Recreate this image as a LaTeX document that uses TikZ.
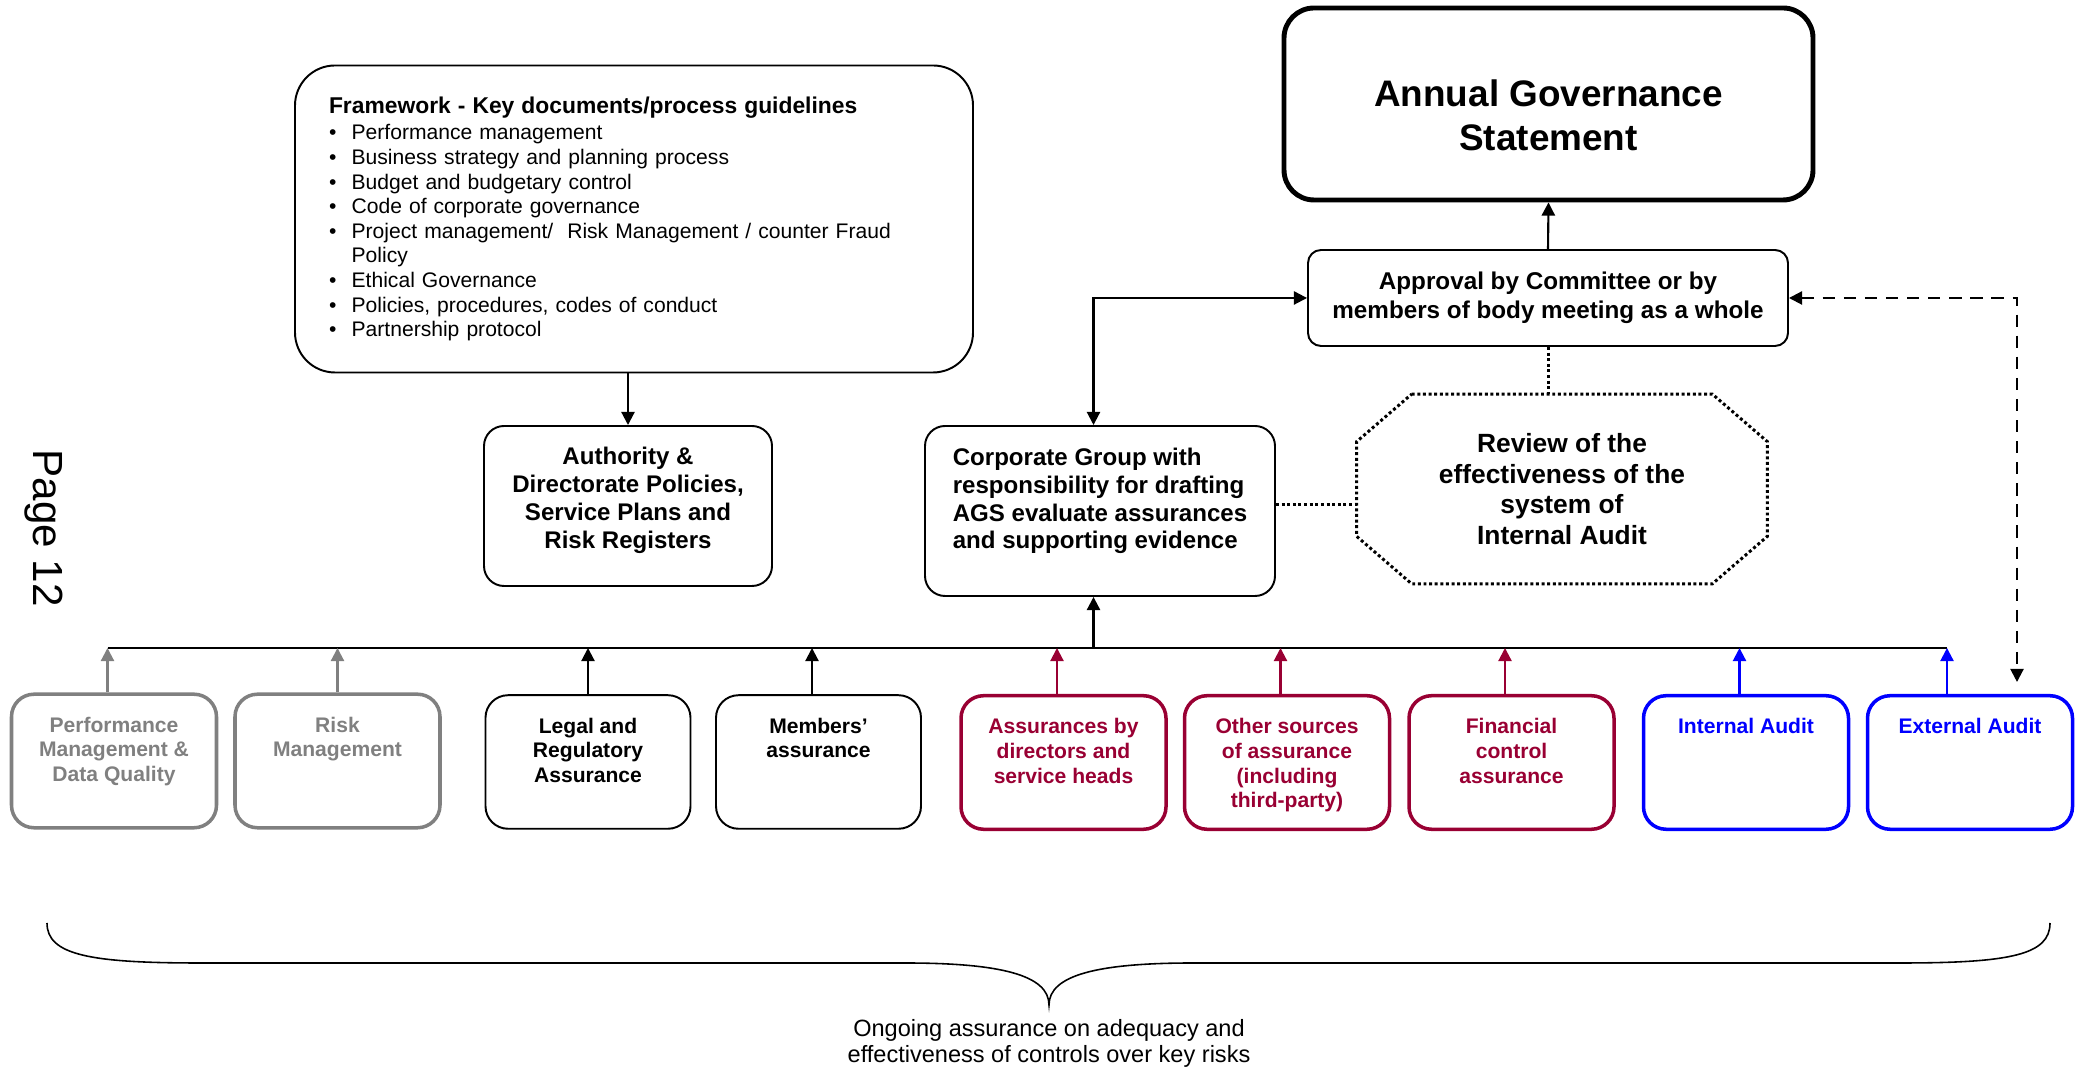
\documentclass[tikz,border=0pt]{standalone}
\usepackage{fontspec}
\setmainfont{Liberation Sans}
\usetikzlibrary{arrows.meta}

\definecolor{midgray}{RGB}{128,128,128}
\definecolor{wine}{RGB}{153,0,51}
\definecolor{audblue}{RGB}{0,0,255}

% lines of a box, shifted up or down without changing the box
\newcommand{\liftlines}[3]{\raisebox{#1}[\height][\depth]{\begin{tabular}{@{}#2@{}}#3\end{tabular}}}

\begin{document}
\begin{tikzpicture}[
    >={Triangle[length=7.5pt,width=7.5pt]},
    bigbold/.style={font=\fontsize{13.7}{15.9}\selectfont\bfseries},
    roundbox/.style={draw, line width=1.1pt, rounded corners=0.4cm, bigbold},
    topheld/.style={inner xsep=0.15cm, inner ysep=13pt,
        execute at begin node={\begin{minipage}[c][50pt][t]{3.8cm}\centering},
        execute at end node={\end{minipage}}},
    source/.style={draw, rounded corners=0.45cm, line width=2pt, topheld,
        font=\fontsize{12}{14}\selectfont\bfseries},
    feed/.style={->, line width=1.2pt},
    dots/.style={line width=1.7pt, dash pattern=on 1.7pt off 1.5pt},
]
\useasboundingbox (0,0) rectangle (41.74,21.4);

% === Framework of key documents ===
\node[draw, line width=1.1pt, rounded corners=0.8cm, minimum width=13.56cm, minimum height=6.14cm,
      text width=12.2cm, inner xsep=0.68cm, align=left, font=\fontsize{12}{14}\selectfont] (frame) at (12.68,17.02) {%
  {\fontsize{13}{15}\selectfont\bfseries Framework - Key documents/process guidelines}\\[1pt]
  \makebox[12.9pt][l]{\textbullet}Performance management\\
  \makebox[12.9pt][l]{\textbullet}Business strategy and planning process\\
  \makebox[12.9pt][l]{\textbullet}Budget and budgetary control\\
  \makebox[12.9pt][l]{\textbullet}Code of corporate governance\\
  \makebox[12.9pt][l]{\textbullet}Project management/~ Risk Management / counter Fraud\\
  \hspace*{12.9pt}Policy\\
  \makebox[12.9pt][l]{\textbullet}Ethical Governance\\
  \makebox[12.9pt][l]{\textbullet}Policies, procedures, codes of conduct\\
  \makebox[12.9pt][l]{\textbullet}Partnership protocol};

% === Middle row ===
\node[roundbox, minimum width=5.76cm, minimum height=3.2cm] (auth) at (12.56,11.28)
    {\liftlines{0.1cm}{c}{Authority \&\\Directorate Policies,\\Service Plans and\\Risk Registers}};
\node[roundbox, minimum width=7.0cm, minimum height=3.4cm] (corp) at (22.0,11.18)
    {\liftlines{0.19cm}{l}{Corporate Group with\\responsibility for drafting\\AGS evaluate assurances\\and supporting evidence}};

% === Statement and approval ===
\node[draw, line width=2.8pt, rounded corners=0.6cm, minimum width=10.58cm, minimum height=3.84cm,
      font=\fontsize{21}{25}\selectfont\bfseries] (ags) at (30.97,19.32)
    {\liftlines{-0.32cm}{c}{Annual Governance\\Statement}};
\node[roundbox, rounded corners=0.26cm, minimum width=9.6cm, minimum height=1.92cm, align=center,
      font=\fontsize{13.8}{16.5}\selectfont\bfseries] (appr) at (30.96,15.44)
    {Approval by Committee or by\\members of body meeting as a whole};

% === Review (dotted octagon) ===
\node[minimum width=8.2cm, minimum height=3.78cm, align=center,
      font=\fontsize{15}{17.4}\selectfont\bfseries] (review) at (31.24,11.62)
    {Review of the\\effectiveness of the\\system of\\Internal Audit};
\draw[dots]
    ([xshift=1.1cm]review.north west) -- ([xshift=-1.1cm]review.north east)
    -- ([yshift=-0.95cm]review.north east) -- ([yshift=0.95cm]review.south east)
    -- ([xshift=-1.1cm]review.south east) -- ([xshift=1.1cm]review.south west)
    -- ([yshift=0.95cm]review.south west) -- ([yshift=-0.95cm]review.north west) -- cycle;

% === Sources of assurance ===
\node[source, draw=midgray, text=midgray] (perf) at (2.28,6.18) {Performance\\Management \&\\Data Quality};
\node[source, draw=midgray, text=midgray] (risk) at (6.75,6.18) {Risk\\Management};
\node[source, line width=1.1pt] (legal) at (11.76,6.16) {Legal and\\Regulatory\\Assurance};
\node[source, line width=1.1pt] (members) at (16.37,6.16) {Members’\\assurance};
\node[source, draw=wine, text=wine] (directors) at (21.27,6.15) {Assurances by\\directors and\\service heads};
\node[source, draw=wine, text=wine] (others) at (25.74,6.15) {Other sources\\of assurance\\(including\\third-party)};
\node[source, draw=wine, text=wine] (financial) at (30.23,6.15) {Financial\\control\\assurance};
\node[source, draw=audblue, text=audblue] (intaud) at (34.92,6.15) {Internal Audit};
\node[source, draw=audblue, text=audblue] (extaud) at (39.4,6.15) {External Audit};

% === Bus and feeds ===
\coordinate (busR) at (38.94,8.44);
\draw[line width=1.1pt] ([xshift=-0.13cm]perf.north |- busR) -- (busR);
\draw[feed, midgray] ([xshift=-0.13cm]perf.north) -- ([xshift=-0.13cm]perf.north |- busR);
\draw[feed, midgray] (risk.north) -- (risk.north |- busR);
\draw[feed] (legal.north) -- (legal.north |- busR);
\draw[feed] ([xshift=-0.13cm]members.north) -- ([xshift=-0.13cm]members.north |- busR);
\draw[feed, wine] ([xshift=-0.13cm]directors.north) -- ([xshift=-0.13cm]directors.north |- busR);
\draw[feed, wine] ([xshift=-0.13cm]others.north) -- ([xshift=-0.13cm]others.north |- busR);
\draw[feed, wine] ([xshift=-0.13cm]financial.north) -- ([xshift=-0.13cm]financial.north |- busR);
\draw[feed, audblue] ([xshift=-0.13cm]intaud.north) -- ([xshift=-0.13cm]intaud.north |- busR);
\draw[feed, audblue] (extaud.north -| busR) -- (busR);

% === Upper connectors ===
\draw[feed] (auth.north |- frame.south) -- (auth.north);
\draw[feed] ([xshift=-0.13cm]corp.south |- busR) -- ([xshift=-0.13cm]corp.south);
\draw[<->, line width=1.2pt] ([xshift=-0.13cm]corp.north) |- (appr.west);
\draw[feed] (appr.north) -- (ags.south);
\coordinate (extin) at (40.34,7.76);
\draw[<->, line width=1.2pt, dash pattern=on 7pt off 5pt] (appr.east) -| (extin);
\draw[dots] (appr.south) -- (appr.south |- review.north);
\draw[dots] ([yshift=0.12cm]corp.east) -- ([yshift=0.12cm]corp.east -| review.west);

% === Brace and caption ===
\draw[line width=0.9pt] (0.94,2.94) .. controls (0.94,2.3) and (1.8,2.14) .. (4.0,2.14)
    -- (18.1,2.14) .. controls (20.0,2.14) and (20.98,1.9) .. (20.98,1.30)
    .. controls (20.98,1.9) and (21.96,2.14) .. (23.86,2.14)
    -- (38.0,2.14) .. controls (40.2,2.14) and (41.0,2.3) .. (41.0,2.94);
\node[align=center, font=\fontsize{13.4}{15.2}\selectfont] (ongoing) at (20.98,0.53)
    {Ongoing assurance on adequacy and\\effectiveness of controls over key risks};

% === Page number ===
\node[rotate=-90, font=\fontsize{24}{28}\selectfont] (pagenum) at (0.88,10.84) {Page 12};

\end{tikzpicture}
\end{document}
